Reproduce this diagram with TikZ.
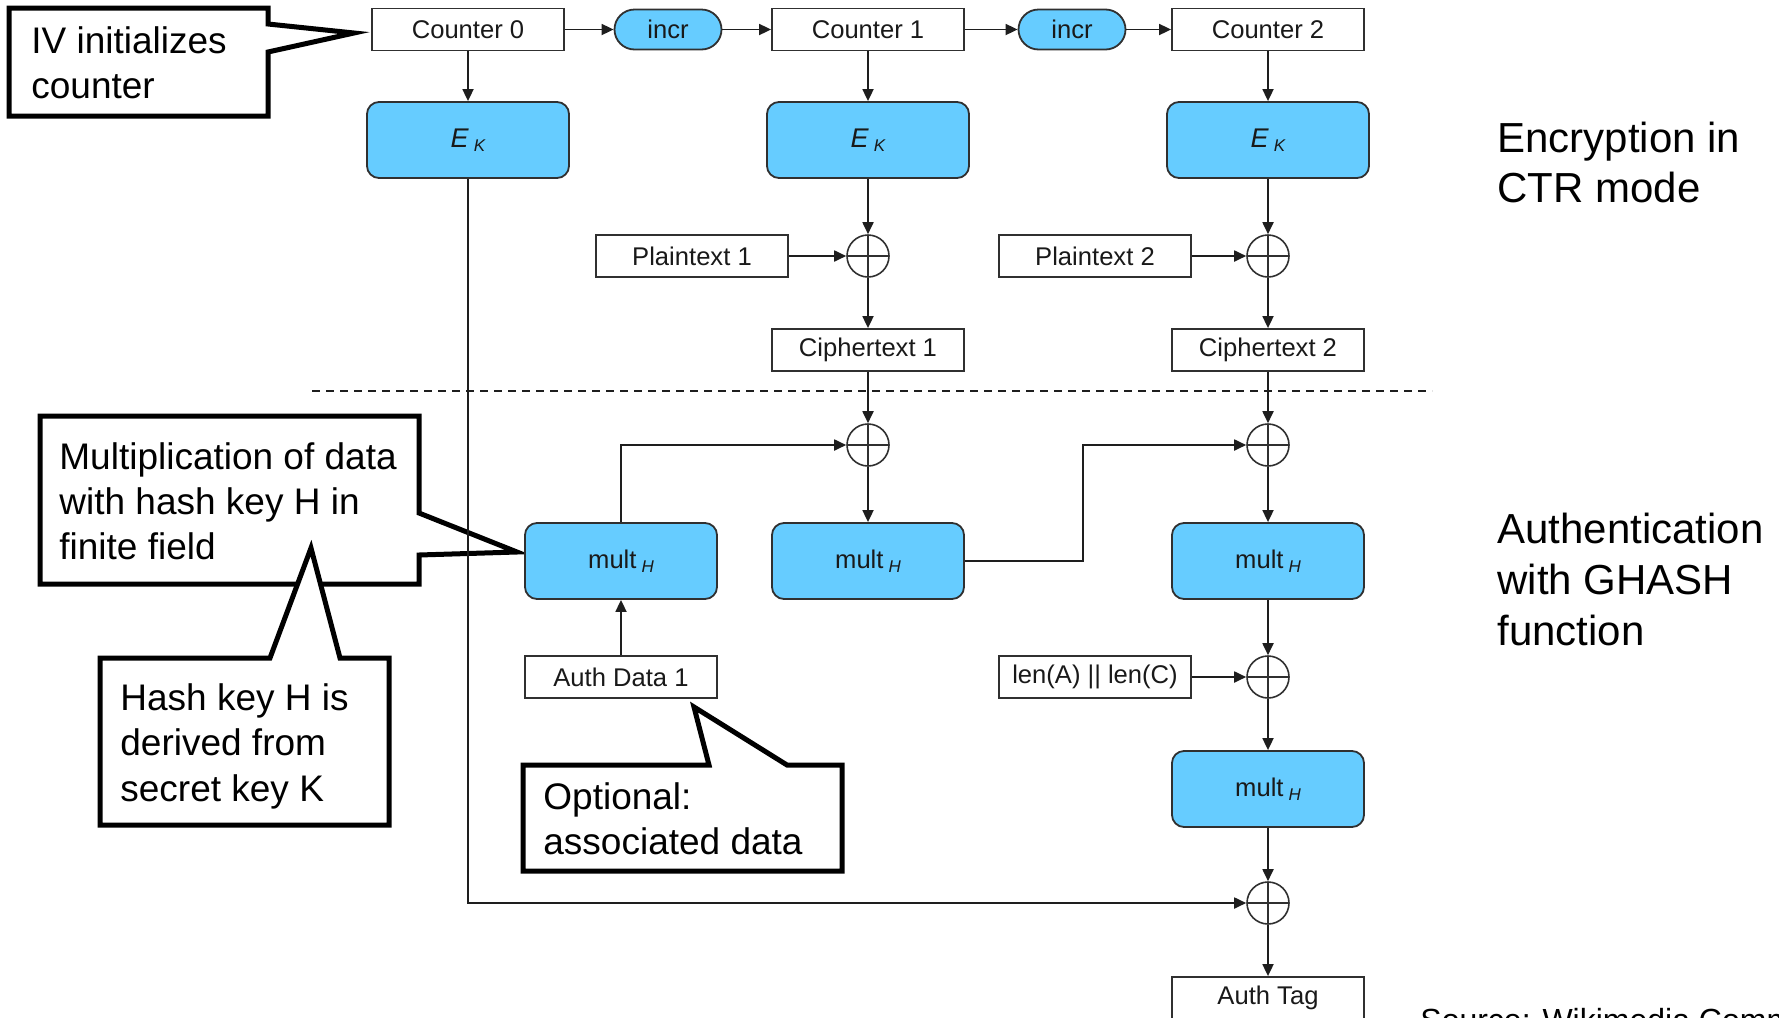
\documentclass[tikz,border=0pt]{standalone}
\usepackage{fontspec}
\setmainfont{Liberation Sans}
\usetikzlibrary{arrows.meta}
\definecolor{blockblue}{HTML}{66CCFF}
\definecolor{edgegray}{HTML}{303030}
\definecolor{linegray}{HTML}{1E1E1E}
\newcommand\ekey{\textit{E}\hspace{2.5pt}\raisebox{-2.2pt}{\fontsize{8.5}{9}\selectfont\itshape K}}
\newcommand\multh{mult\hspace{2.5pt}\raisebox{-2.2pt}{\fontsize{8.5}{9}\selectfont\itshape H}}
\begin{document}
\begin{tikzpicture}[x=0.5pt,y=-0.5pt,
  box/.style={draw=edgegray, line width=0.9pt, fill=white, minimum width=96pt,
    minimum height=21pt, inner sep=0pt, text=black!90, font=\fontsize{12.8}{15}\selectfont},
  ekbox/.style={box, fill=blockblue, rounded corners=6pt, minimum width=101pt, minimum height=38pt,
    font=\fontsize{13.5}{15}\selectfont},
  multbox/.style={box, fill=blockblue, rounded corners=6pt, minimum height=38pt},
  incrbox/.style={box, fill=blockblue, rounded corners=10pt, minimum width=53.5pt, minimum height=20pt},
  xor/.style={circle, draw=edgegray, line width=0.8pt, minimum size=21pt, inner sep=0pt,
    path picture={\draw[edgegray, line width=0.8pt]
      (path picture bounding box.north) -- (path picture bounding box.south)
      (path picture bounding box.west) -- (path picture bounding box.east);}},
  conn/.style={draw=linegray, line width=0.9pt, -{Triangle[length=6pt,width=5.5pt]}},
  sepline/.style={draw=linegray, line width=0.75pt, dash pattern=on 4pt off 3pt},
  callout/.style={draw=black, line width=2.5pt, fill=white, line join=miter},
  calltext/.style={anchor=base west, inner sep=0pt, font=\fontsize{18.5}{22}\selectfont},
  sidetext/.style={anchor=base west, inner sep=0pt, font=\fontsize{21}{25}\selectfont},
]
\useasboundingbox (0,0) rectangle (1779,1018);
\clip (0,0) rectangle (1779,1018);

% ---- speech-bubble annotations ----
\draw[callout] (9,8) -- (268,8) -- (268,24) -- (354,33) -- (268,52) -- (268,116) -- (9,116) -- cycle;
\node[calltext] (ivA) at (31,53) {IV initializes};
\node[calltext] (ivB) at (31,98) {counter};

\draw[callout] (40,416) -- (419,416) -- (419,513) -- (517,552) -- (419,555) -- (419,584) -- (40,584) -- cycle;
\node[calltext] (mulA) at (59,469) {Multiplication of data};
\node[calltext] (mulB) at (59,514) {with hash key H in};
\node[calltext] (mulC) at (59,559) {finite field};

\draw[callout] (100,658) -- (270,658) -- (311,548) -- (340,658) -- (389,658) -- (389,825) -- (100,825) -- cycle;
\node[calltext] (hkA) at (120,710) {Hash key H is};
\node[calltext] (hkB) at (120,755) {derived from};
\node[calltext] (hkC) at (120,801) {secret key K};

\draw[callout] (523,765) -- (709,765) -- (694,707) -- (787,765) -- (842,765) -- (842,871) -- (523,871) -- cycle;
\node[calltext] (optA) at (543,809) {Optional:};
\node[calltext] (optB) at (543,854) {associated data};

% ---- counter chain ----
\node[box] (c0) at (468,29.5) {Counter 0};
\node[incrbox] (i1) at (668,29.5) {incr};
\node[box] (c1) at (868,29.5) {Counter 1};
\node[incrbox] (i2) at (1072,29.5) {incr};
\node[box] (c2) at (1268,29.5) {Counter 2};

% ---- block cipher ----
\node[ekbox] (e0) at (468,140) {\ekey};
\node[ekbox] (e1) at (868,140) {\ekey};
\node[ekbox] (e2) at (1268,140) {\ekey};

\node[xor] (x1) at (868,256) {};
\node[xor] (x2) at (1268,256) {};
\node[box] (p1) at (692,256) {Plaintext 1};
\node[box] (p2) at (1095,256) {Plaintext 2};
\node[box] (ct1) at (868,350) {Ciphertext 1};
\node[box] (ct2) at (1268,350) {Ciphertext 2};

% ---- separator ----
\coordinate (sepL) at (312,391);
\coordinate (sepR) at (1432,391);
\draw[sepline] (sepL) -- (sepR);

% ---- GHASH ----
\node[xor] (xa1) at (868,445) {};
\node[xor] (xa2) at (1268,445) {};
\node[multbox] (m0) at (621,561) {\multh};
\node[multbox] (m1) at (868,561) {\multh};
\node[multbox] (m2) at (1268,561) {\multh};
\node[box] (ad) at (621,677) {Auth Data 1};
\node[box] (ln) at (1095,677) {len(A) || len(C)};
\node[xor] (xb) at (1268,677) {};
\node[multbox] (m3) at (1268,789) {\multh};
\node[xor] (xf) at (1268,903) {};
\node[box] (tag) at (1268,998) {Auth Tag};
\coordinate (jog) at (1083,445);

% ---- connectors ----
\draw[conn] (c0) -- (i1);
\draw[conn] (i1) -- (c1);
\draw[conn] (c1) -- (i2);
\draw[conn] (i2) -- (c2);
\draw[conn] (c0) -- (e0);
\draw[conn] (c1) -- (e1);
\draw[conn] (c2) -- (e2);
\draw[conn] (e1) -- (x1);
\draw[conn] (e2) -- (x2);
\draw[conn] (p1) -- (x1);
\draw[conn] (p2) -- (x2);
\draw[conn] (x1) -- (ct1);
\draw[conn] (x2) -- (ct2);
\draw[conn] (ct1) -- (xa1);
\draw[conn] (ct2) -- (xa2);
\draw[conn] (m0) |- (xa1);
\draw[conn] (xa1) -- (m1);
\draw[conn] (m1) -| (jog) -- (xa2);
\draw[conn] (xa2) -- (m2);
\draw[conn] (ad) -- (m0);
\draw[conn] (m2) -- (xb);
\draw[conn] (ln) -- (xb);
\draw[conn] (xb) -- (m3);
\draw[conn] (m3) -- (xf);
\draw[conn] (e0) |- (xf);
\draw[conn] (xf) -- (tag);

% ---- side labels ----
\node[sidetext] (encA) at (1497,152) {Encryption in};
\node[sidetext] (encB) at (1497,202) {CTR mode};
\node[sidetext] (autA) at (1497,543) {Authentication};
\node[sidetext] (autB) at (1497,594) {with GHASH};
\node[sidetext] (autC) at (1497,645) {function};
\node[anchor=base west, inner sep=0pt, font=\fontsize{16}{19}\selectfont] (src) at (1420,1031) {Source: Wikimedia Commons};
\end{tikzpicture}
\end{document}
